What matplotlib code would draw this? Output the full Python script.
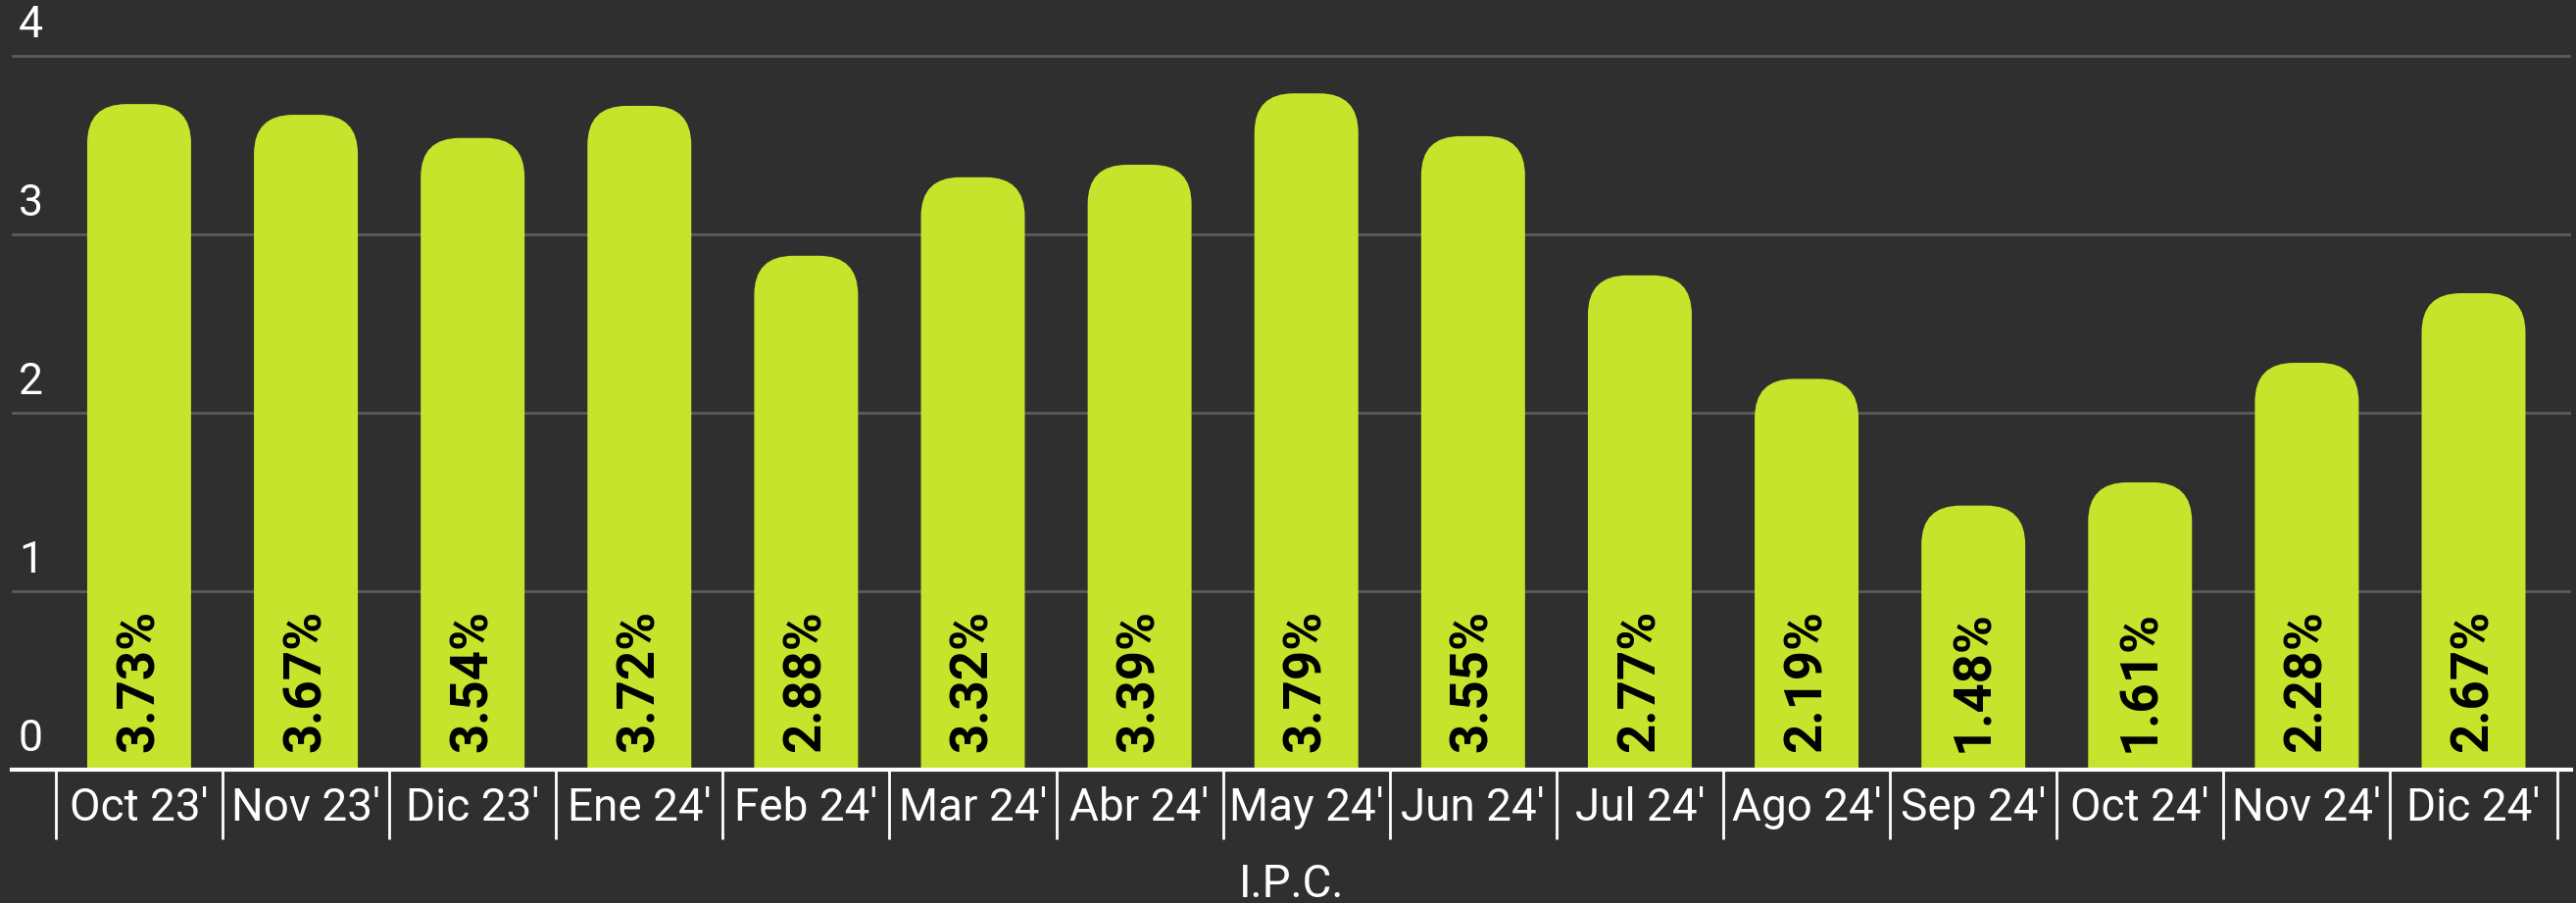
import matplotlib
matplotlib.use("Agg")
import matplotlib.pyplot as plt
import matplotlib.transforms as mtransforms
from matplotlib.patches import FancyBboxPatch
from matplotlib.ticker import FixedLocator
import numpy as np

categories = ["Oct 23'", "Nov 23'", "Dic 23'", "Ene 24'", "Feb 24'", "Mar 24'",
              "Abr 24'", "May 24'", "Jun 24'", "Jul 24'", "Ago 24'", "Sep 24'",
              "Oct 24'", "Nov 24'", "Dic 24'"]
values = [3.73, 3.67, 3.54, 3.72, 2.88, 3.32, 3.39, 3.79, 3.55, 2.77, 2.19, 1.48,
          1.61, 2.28, 2.67]
value_labels = ["3.73%", "3.67%", "3.54%", "3.72%", "2.88%", "3.32%", "3.39%",
                "3.79%", "3.55%", "2.77%", "2.19%", "1.48%", "1.61%", "2.28%", "2.67%"]
y_ticks = [0, 1, 2, 3, 4]
x_title = "I.P.C."

BG = "#2f2f2f"
BAR = "#c6e42b"
GRID = "#5b5b5b"

plt.rcParams['font.family'] = ['Roboto', 'DejaVu Sans']

W, H, DPI = 2628, 921, 100
fig = plt.figure(figsize=(W / DPI, H / DPI), dpi=DPI, facecolor=BG)
ax = fig.add_axes([12 / W, 136 / H, 2611 / W, 782.6 / H])
ax.set_facecolor(BG)

x = np.arange(len(categories))
ax.set_xlim(-0.764, 14.585)
ax.set_ylim(0, 4.3)

bars = ax.bar(x, values, width=0.623, color=BAR)
# replace with rounded-top bars
px_per_x = 2611 / (14.585 + 0.764)
px_per_y = 782.6 / 4.3
r_px = 40
rx = r_px / px_per_x
ry = r_px / px_per_y
for b in bars:
    bx, bw, bh = b.get_x(), b.get_width(), b.get_height()
    b.remove()
    p = FancyBboxPatch((bx, -0.5), bw, bh + 0.5,
                       boxstyle=f"round,pad=0,rounding_size={rx}",
                       mutation_aspect=ry / rx,
                       facecolor=BAR, edgecolor="none", zorder=3)
    ax.add_patch(p)

for xi, lab in zip(x, value_labels):
    ax.text(xi, 0.1, lab, rotation=90, ha="center", va="bottom",
            fontsize=38, fontweight="bold", color="black", zorder=4)

# grid
ax.set_yticks(y_ticks)
ax.yaxis.grid(True, color=GRID, linewidth=2)
ax.set_axisbelow(True)
ax.tick_params(axis="y", length=0, pad=-5, labelsize=32, labelcolor="white")
ax.set_yticklabels([str(t) for t in y_ticks])
offset = mtransforms.ScaledTranslation(0, 7 / 72, fig.dpi_scale_trans)
for lab in ax.get_yticklabels():
    lab.set_horizontalalignment("left")
    lab.set_verticalalignment("bottom")
    lab.set_transform(lab.get_transform() + offset)
    lab.set_clip_on(False)

# x ticks: labels at centers, separators at boundaries
ax.set_xticks(x)
ax.set_xticklabels(categories, fontsize=33, color="white")
ax.tick_params(axis="x", which="major", length=0, pad=12)
ax.xaxis.set_minor_locator(FixedLocator(np.arange(len(categories) + 1) - 0.5))
ax.tick_params(axis="x", which="minor", length=51, width=2, color="white", direction="out")

for s in ["top", "right", "left"]:
    ax.spines[s].set_visible(False)
ax.spines["bottom"].set_color("white")
ax.spines["bottom"].set_linewidth(3)
ax.spines["bottom"].set_zorder(5)

ax.set_xlabel(x_title, fontsize=33, color="white", labelpad=14)

fig.savefig("out.png", dpi=DPI, facecolor=BG)
